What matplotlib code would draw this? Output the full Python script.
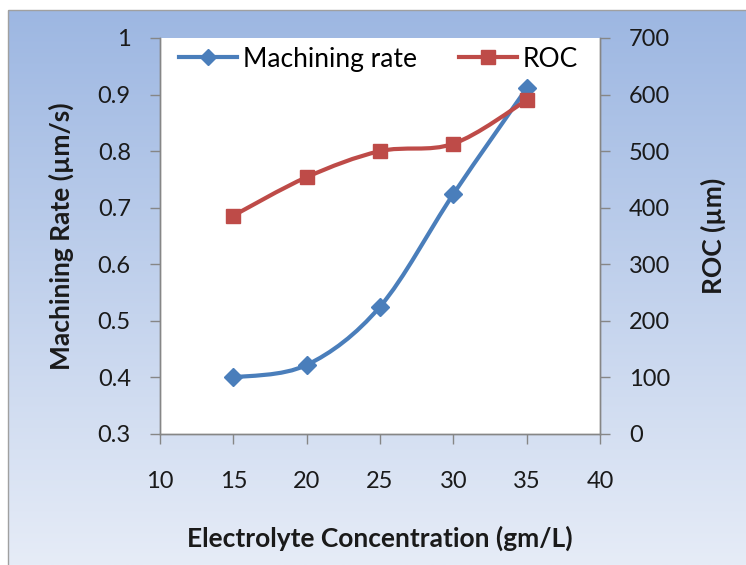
import numpy as np
import matplotlib
matplotlib.use("Agg")
import matplotlib.pyplot as plt
from matplotlib.path import Path
from matplotlib.patches import PathPatch, Rectangle
from matplotlib.lines import Line2D

concentration = [15, 20, 25, 30, 35]
machining_rate = [0.40, 0.422, 0.525, 0.724, 0.911]
roc = [386, 454, 500, 513, 590]

x_ticks = [10, 15, 20, 25, 30, 35, 40]
left_ticks = [0.3, 0.4, 0.5, 0.6, 0.7, 0.8, 0.9, 1.0]
left_ticklabels = ["0.3", "0.4", "0.5", "0.6", "0.7", "0.8", "0.9", "1"]
right_ticks = [0, 100, 200, 300, 400, 500, 600, 700]

BLUE = "#4A7EBB"
RED = "#BE4B48"
GRAY = "#868686"
TXT = "#1a1a1a"
FONT = ["Lato", "DejaVu Sans"]

plt.rcParams["font.family"] = FONT

fig = plt.figure(figsize=(7.46, 5.65), dpi=100)

# gradient background
bg = fig.add_axes([0, 0, 1, 1], zorder=-10)
bg.set_xlim(0, 746)
bg.set_ylim(565, 0)
bg.axis("off")
top = np.array([0x9D, 0xB7, 0xE2]) / 255.0
bot = np.array([0xE6, 0xEC, 0xF7]) / 255.0
t = np.linspace(0, 1, 256)[:, None]
grad = (top[None, :] * (1 - t) + bot[None, :] * t)[:, None, :]
bg.imshow(grad, extent=[8, 746, 565, 10], aspect="auto", interpolation="bilinear")
bg.add_patch(Rectangle((8, 10), 740, 560, fill=False, edgecolor="#A0A0A0", lw=1.0))

W, H = 746, 565
l, r, tp, b = 160, 600, 38, 434
ax = fig.add_axes([l / W, 1 - b / H, (r - l) / W, (b - tp) / H])
ax.set_facecolor("white")
ax2 = ax.twinx()


def smooth_path(xs, ys):
    pts = np.column_stack([xs, ys]).astype(float)
    verts = [pts[0]]
    codes = [Path.MOVETO]
    n = len(pts)
    for i in range(n - 1):
        p0 = pts[i - 1] if i > 0 else pts[i]
        p1 = pts[i]
        p2 = pts[i + 1]
        p3 = pts[i + 2] if i + 2 < n else pts[i + 1]
        c1 = p1 + (p2 - p0) / 6.0
        c2 = p2 - (p3 - p1) / 6.0
        verts += [c1, c2, p2]
        codes += [Path.CURVE4] * 3
    return Path(verts, codes)


ax.add_patch(PathPatch(smooth_path(concentration, machining_rate), fill=False,
                       edgecolor=BLUE, lw=3.0, capstyle="round", joinstyle="round", zorder=2))
ax.plot(concentration, machining_rate, linestyle="none", marker="D", ms=9,
        color=BLUE, markeredgecolor=BLUE, zorder=3)

ax2.add_patch(PathPatch(smooth_path(concentration, roc), fill=False,
                        edgecolor=RED, lw=3.0, capstyle="round", joinstyle="round", zorder=2))
ax2.plot(concentration, roc, linestyle="none", marker="s", ms=10,
         color=RED, markeredgecolor=RED, zorder=3)

ax.set_xlim(10, 40)
ax.set_ylim(0.3, 1.0)
ax2.set_ylim(0, 700)
ax.set_xticks(x_ticks)
ax.set_xticklabels([str(v) for v in x_ticks])
ax.set_yticks(left_ticks)
ax.set_yticklabels(left_ticklabels)
ax2.set_yticks(right_ticks)
ax2.set_yticklabels([str(v) for v in right_ticks])

for a in (ax, ax2):
    for s in a.spines.values():
        s.set_color(GRAY)
        s.set_linewidth(1.0)
    a.spines["top"].set_visible(False)
    a.tick_params(colors=GRAY, labelcolor=TXT, labelsize=17, length=7, width=1.0)
ax.tick_params(axis="y", pad=14)
ax2.tick_params(axis="y", pad=14)
ax.tick_params(axis="x", pad=20)

ax.set_xlabel("Electrolyte Concentration (gm/L)", fontsize=19, fontweight="bold",
              color=TXT, labelpad=24)
ax.set_ylabel("Machining Rate (µm/s)", fontsize=19, fontweight="bold",
              color=TXT, labelpad=17)
ax2.set_ylabel("ROC (µm)", fontsize=19, fontweight="bold", color=TXT, labelpad=22)

handles = [
    Line2D([0], [0], color=BLUE, lw=3, marker="D", ms=8),
    Line2D([0], [0], color=RED, lw=3, marker="s", ms=10),
]
ax2.legend(handles, ["Machining rate", "ROC"], loc="upper left", ncol=2, frameon=False,
           fontsize=19, handlelength=2.2, handletextpad=0.2, columnspacing=1.6,
           bbox_to_anchor=(0.02, 1.005), borderaxespad=0.0, borderpad=0.4)

fig.savefig("out.png", dpi=100)
